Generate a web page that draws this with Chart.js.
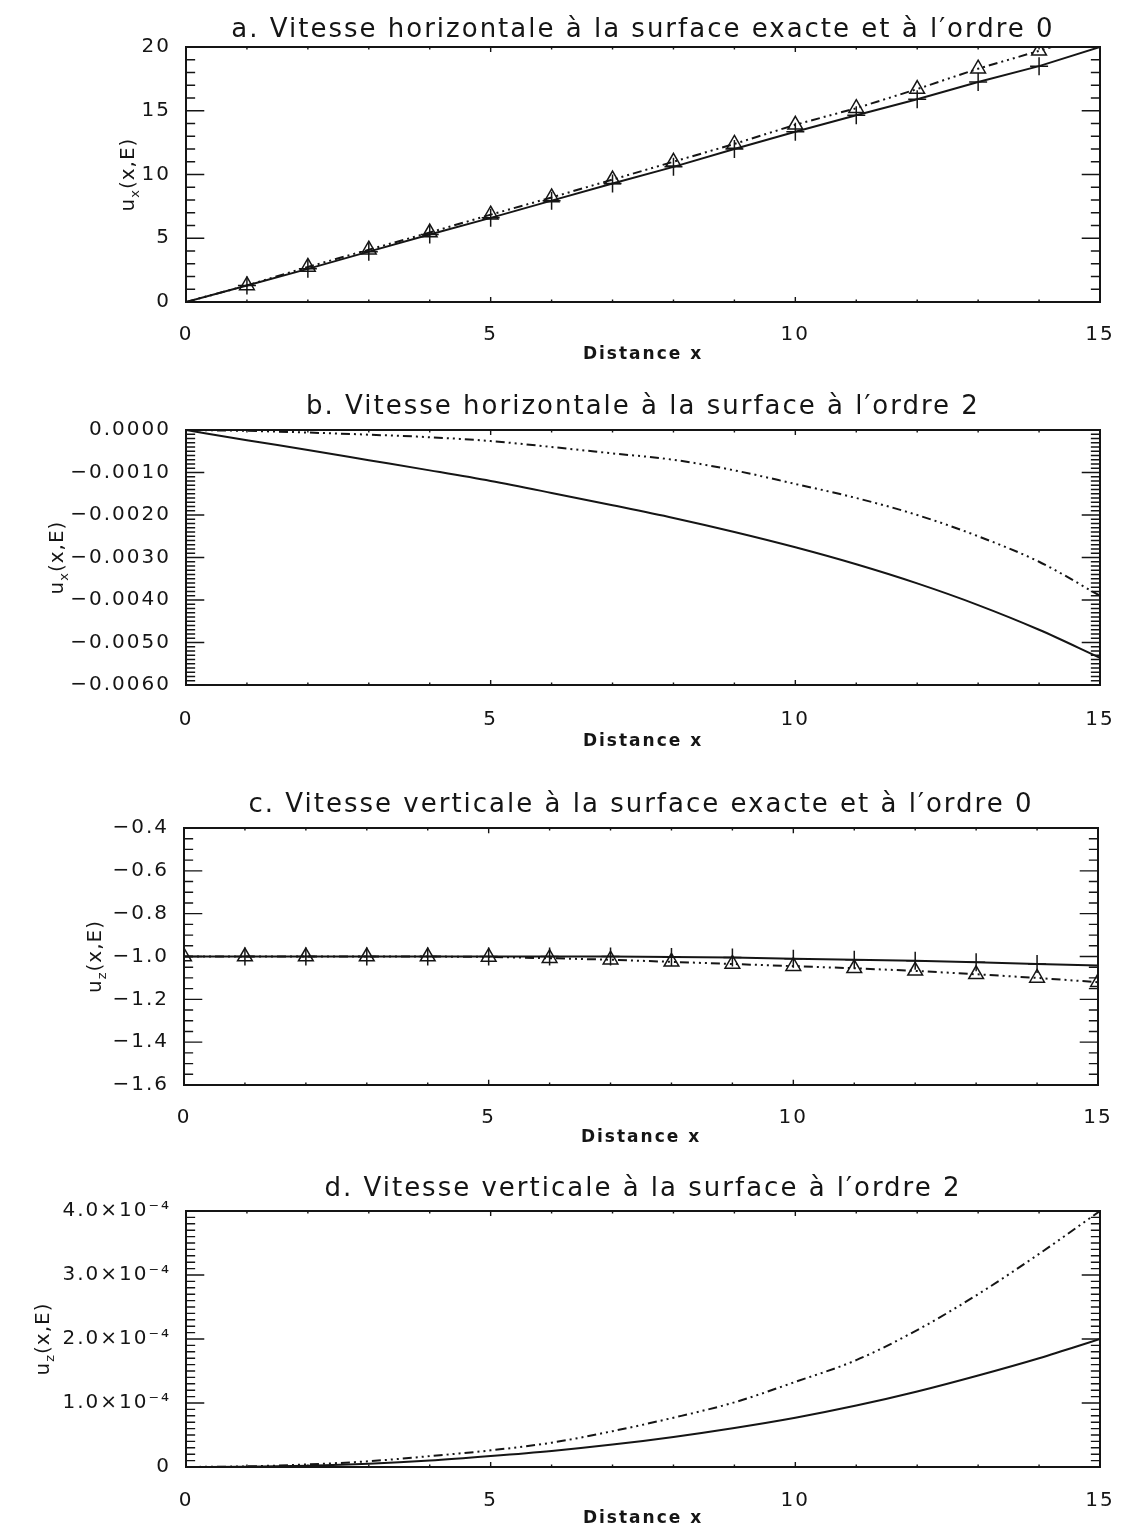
<!DOCTYPE html>
<html>
<head>
<meta charset="utf-8">
<script src="https://cdn.jsdelivr.net/npm/chart.js@4"></script>
<style>
  body { margin: 0; background: #fff; }
  .page { position: relative; width: 1138px; height: 1530px; }
  canvas { position: absolute; left: 0; }
</style>
</head>
<body>
<div class="page">
  <canvas id="chartA" width="1138" height="370" style="top:0px"></canvas>
  <canvas id="chartB" width="1138" height="390" style="top:380px"></canvas>
  <canvas id="chartC" width="1138" height="390" style="top:770px"></canvas>
  <canvas id="chartD" width="1138" height="370" style="top:1160px"></canvas>
</div>
<script>
// distance x, same grid for all four panels
const xs = [0, 1, 2, 3, 4, 5, 6, 7, 8, 9, 10, 11, 12, 13, 14, 15];
const xTicks = [0, 5, 10, 15];

// a. horizontal velocity, exact surface (solid, +) and order 0 (dash-dot, triangles)
const aSolid  = [0, 1.3, 2.6, 3.95, 5.3, 6.6, 7.95, 9.3, 10.6, 12.0, 13.35, 14.65, 15.9, 17.25, 18.5, 20.0];
const aDashed = [0, 1.3, 2.75, 4.1, 5.45, 6.85, 8.2, 9.6, 11.0, 12.4, 13.9, 15.2, 16.7, 18.3, 19.7, 21.2];
const aYTicks = [0, 5, 10, 15, 20];

// b. horizontal velocity at order 2
const bSolid  = [0, -0.00024, -0.00047, -0.00071, -0.00095, -0.0012, -0.00148, -0.00177, -0.00207, -0.0024, -0.00276, -0.00316, -0.00361, -0.00412, -0.0047, -0.00536];
const bDashed = [0, -0.00002, -0.00006, -0.00011, -0.00017, -0.00026, -0.0004, -0.00055, -0.0007, -0.00095, -0.00127, -0.0016, -0.002, -0.0025, -0.0031, -0.0039];
const bYTicks = [0, -0.001, -0.002, -0.003, -0.004, -0.005, -0.006];

// c. vertical velocity, exact surface and order 0
const cSolid  = [-1.0, -1.0, -1.0, -1.0, -1.0, -1.0, -1.0, -1.0, -1.002, -1.005, -1.01, -1.015, -1.02, -1.027, -1.035, -1.042];
const cDashed = [-1.0, -1.0, -1.0, -1.0, -1.0, -1.002, -1.008, -1.015, -1.025, -1.035, -1.045, -1.055, -1.067, -1.083, -1.1, -1.12];
const cYTicks = [-0.4, -0.6, -0.8, -1.0, -1.2, -1.4, -1.6];

// d. vertical velocity at order 2
const dSolid  = [0, 0.5e-6, 2e-6, 5e-6, 1.0e-5, 1.7e-5, 2.5e-5, 3.5e-5, 4.7e-5, 6.1e-5, 7.7e-5, 9.6e-5, 1.18e-4, 1.43e-4, 1.7e-4, 2.0e-4];
const dDashed = [0, 1e-6, 4e-6, 9e-6, 1.7e-5, 2.6e-5, 3.8e-5, 5.6e-5, 7.7e-5, 1.01e-4, 1.33e-4, 1.67e-4, 2.14e-4, 2.7e-4, 3.33e-4, 4.0e-4];
const dYTicks = [0, 1e-4, 2e-4, 3e-4, 4e-4];

const ink = '#151515';
const dashDotDotDot = [9, 4, 2, 4, 2, 4, 2, 4];
Chart.defaults.font.family = "'DejaVu Sans', sans-serif";
Chart.defaults.color = ink;

const minus = s => s.replace('-', '\u2212');

function subdivide(ticks, n) {
  const out = [];
  for (let i = 0; i < ticks.length; i++) {
    out.push([ticks[i], true]);
    if (i < ticks.length - 1) {
      const step = (ticks[i + 1] - ticks[i]) / n;
      for (let k = 1; k < n; k++) out.push([ticks[i] + k * step, false]);
    }
  }
  return out;
}

// the vector font of the original is wide, so spread the letters a bit
const spacing = {
  id: 'spacing',
  beforeLayout(chart) { chart.ctx.letterSpacing = '2px'; },
  beforeDraw(chart) { chart.ctx.letterSpacing = '2px'; }
};

// IDL style box: border, inward ticks on all four sides, y title with subscript
const frame = {
  id: 'frame',
  afterDatasetsDraw(chart, args, o) {
    const { ctx, chartArea: ca, scales } = chart;
    const w = ca.right - ca.left, h = ca.bottom - ca.top;
    ctx.save();
    ctx.strokeStyle = ink;
    ctx.lineWidth = 2;
    ctx.strokeRect(ca.left, ca.top, w, h);
    ctx.lineWidth = 1.4;
    ctx.beginPath();
    const xl = 0.02 * h, yl = 0.02 * w;
    subdivide(xTicks, o.xMinor).forEach(([v, major]) => {
      const px = scales.x.getPixelForValue(v), len = major ? xl : xl / 2;
      ctx.moveTo(px, ca.bottom); ctx.lineTo(px, ca.bottom - len);
      ctx.moveTo(px, ca.top); ctx.lineTo(px, ca.top + len);
    });
    subdivide(o.yTicks, o.yMinor).forEach(([v, major]) => {
      const py = scales.y.getPixelForValue(v), len = major ? yl : yl / 2;
      ctx.moveTo(ca.left, py); ctx.lineTo(ca.left + len, py);
      ctx.moveTo(ca.right, py); ctx.lineTo(ca.right - len, py);
    });
    ctx.stroke();

    // y title: u_sub(x,E), rotated
    ctx.letterSpacing = '1px';
    ctx.translate(o.titleX, (ca.top + ca.bottom) / 2);
    ctx.rotate(-Math.PI / 2);
    ctx.fillStyle = ink;
    ctx.textBaseline = 'middle';
    ctx.textAlign = 'left';
    const big = "20px 'DejaVu Sans', sans-serif", small = "13px 'DejaVu Sans', sans-serif";
    ctx.font = big;
    const wu = ctx.measureText('u').width, wr = ctx.measureText('(x,E)').width;
    ctx.font = small;
    const ws = ctx.measureText(o.sub).width;
    let x0 = -(wu + ws + wr) / 2;
    ctx.font = big;
    ctx.fillText('u', x0, 0);
    ctx.font = small;
    ctx.fillText(o.sub, x0 + wu, 7);
    ctx.font = big;
    ctx.fillText('(x,E)', x0 + wu + ws, 0);
    ctx.restore();
  }
};

function makeChart(id, p) {
  const top = p.canvasTop, H = p.height;
  const plotTop = p.plotTop - top, plotBottom = p.plotBottom - top;
  const titleCenter = p.titleY - top;
  const series = [
    {
      data: xs.map((x, i) => ({ x: x, y: p.solid[i] })),
      borderColor: ink, borderWidth: 2, tension: 0,
      cubicInterpolationMode: p.smooth ? 'monotone' : 'default',
      pointStyle: 'cross', pointRadius: p.plusRadius || 0,
      pointBorderColor: ink, pointBorderWidth: 1.5
    },
    {
      data: xs.map((x, i) => ({ x: x, y: p.dashed[i] })),
      borderColor: ink, borderWidth: 2, borderDash: dashDotDotDot, tension: 0,
      cubicInterpolationMode: p.smooth ? 'monotone' : 'default',
      pointStyle: 'triangle', pointRadius: p.triRadius || 0,
      pointBackgroundColor: 'rgba(255,255,255,0)', pointBorderColor: ink, pointBorderWidth: 1.5
    }
  ];
  return new Chart(document.getElementById(id), {
    type: 'line',
    data: { datasets: series },
    options: {
      responsive: false,
      animation: false,
      events: [],
      layout: { padding: { left: 0, right: 1138 - p.plotRight, top: 0, bottom: 0 } },
      plugins: {
        legend: { display: false },
        tooltip: { enabled: false },
        title: {
          display: true, text: p.title, fullSize: false, color: ink,
          font: { size: 26, weight: 'normal' },
          padding: { top: titleCenter - 15.6, bottom: plotTop - titleCenter - 15.6 }
        },
        frame: { yTicks: p.yTicks, yMinor: p.yMinor, xMinor: 5, sub: p.sub, titleX: p.yTitleX }
      },
      scales: {
        x: {
          type: 'linear', min: 0, max: 15,
          grid: { display: false }, border: { display: false },
          afterBuildTicks: s => { s.ticks = xTicks.map(v => ({ value: v })); },
          afterFit: s => { s.height = H - plotBottom; },
          ticks: { font: { size: 20 }, padding: p.xLabelY - p.plotBottom - 12, maxRotation: 0, callback: v => String(v) },
          title: {
            display: true, text: 'Distance x', color: ink,
            font: { size: 17, weight: 'bold' },
            padding: { top: 0, bottom: (top + H) - p.xTitleY - 10.2 }
          }
        },
        y: {
          type: 'linear', min: p.yMin, max: p.yMax,
          grid: { display: false }, border: { display: false },
          afterBuildTicks: s => { s.ticks = p.yTicks.map(v => ({ value: v })); },
          afterFit: s => { s.width = p.plotLeft; },
          ticks: { font: { size: 20 }, padding: 7, callback: p.yFmt }
        }
      }
    },
    plugins: [spacing, frame]
  });
}

const inner = xs.map(x => (x === 0 || x === 15) ? 0 : 9);
const innerTri = xs.map(x => (x === 0 || x === 15) ? 0 : 8.5);

makeChart('chartA', {
  title: 'a. Vitesse horizontale à la surface exacte et à l′ordre 0',
  canvasTop: 0, height: 370, titleY: 30, plotTop: 47, plotBottom: 302,
  plotLeft: 186, plotRight: 1100, xLabelY: 327, xTitleY: 355,
  solid: aSolid, dashed: aDashed, plusRadius: inner, triRadius: innerTri,
  yMin: 0, yMax: 20, yTicks: aYTicks, yMinor: 5, yFmt: v => String(v),
  sub: 'x', yTitleX: 129
});

makeChart('chartB', {
  title: 'b. Vitesse horizontale à la surface à l′ordre 2',
  canvasTop: 380, height: 390, titleY: 407, plotTop: 430, plotBottom: 685,
  plotLeft: 186, plotRight: 1100, xLabelY: 712, xTitleY: 742,
  solid: bSolid, dashed: bDashed, smooth: true,
  yMin: -0.006, yMax: 0, yTicks: bYTicks, yMinor: 10, yFmt: v => minus(v.toFixed(4)),
  sub: 'x', yTitleX: 58
});

makeChart('chartC', {
  title: 'c. Vitesse verticale à la surface exacte et à l′ordre 0',
  canvasTop: 770, height: 390, titleY: 805, plotTop: 828, plotBottom: 1085,
  plotLeft: 184, plotRight: 1098, xLabelY: 1110, xTitleY: 1138,
  solid: cSolid, dashed: cDashed, plusRadius: inner, triRadius: 8.5,
  yMin: -1.6, yMax: -0.4, yTicks: cYTicks, yMinor: 4, yFmt: v => minus(v.toFixed(1)),
  sub: 'z', yTitleX: 96
});

makeChart('chartD', {
  title: 'd. Vitesse verticale à la surface à l′ordre 2',
  canvasTop: 1160, height: 370, titleY: 1189, plotTop: 1211, plotBottom: 1467,
  plotLeft: 186, plotRight: 1100, xLabelY: 1493, xTitleY: 1519,
  solid: dSolid, dashed: dDashed, smooth: true,
  yMin: 0, yMax: 4e-4, yTicks: dYTicks, yMinor: 10,
  yFmt: v => v === 0 ? '0' : (v * 1e4).toFixed(1) + '×10⁻⁴',
  sub: 'z', yTitleX: 44
});
</script>
</body>
</html>
